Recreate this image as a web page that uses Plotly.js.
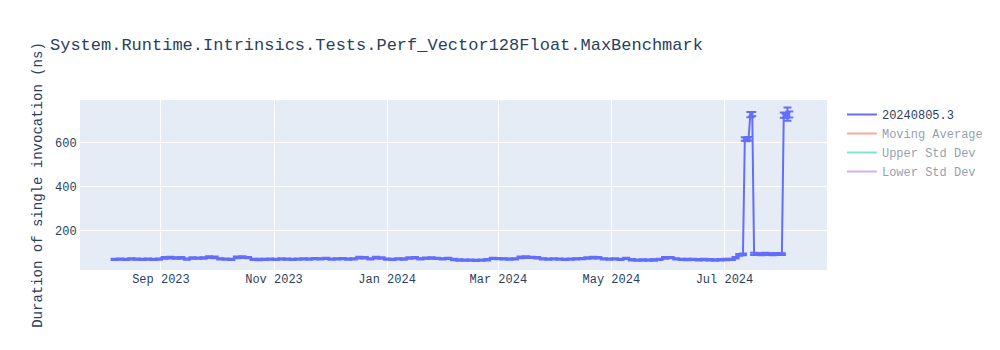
<!DOCTYPE html>
<html>
<head>
<meta charset="utf-8">
<script src="https://cdn.plot.ly/plotly-3.0.1.min.js"></script>
<style>html,body{margin:0;padding:0;background:#fff;}#chart{width:1000px;height:350px;}</style>
</head>
<body>
<div id="chart"></div>
<script>
const chartTitle = "System.Runtime.Intrinsics.Tests.Perf_Vector128Float.MaxBenchmark";
const yTitle = "Duration of single invocation (ns)";
const seriesName = "20240805.3";

const dates = [
  "2023-08-07","2023-08-10","2023-08-13","2023-08-16","2023-08-19","2023-08-22","2023-08-25","2023-08-28","2023-08-31",
  "2023-09-03","2023-09-06","2023-09-09","2023-09-12","2023-09-15","2023-09-18","2023-09-21","2023-09-24","2023-09-27","2023-09-30",
  "2023-10-03","2023-10-06","2023-10-09","2023-10-12","2023-10-15","2023-10-18","2023-10-21","2023-10-24","2023-10-27","2023-10-30",
  "2023-11-02","2023-11-05","2023-11-08","2023-11-11","2023-11-14","2023-11-17","2023-11-20","2023-11-23","2023-11-26","2023-11-29",
  "2023-12-02","2023-12-05","2023-12-08","2023-12-11","2023-12-14","2023-12-17","2023-12-20","2023-12-23","2023-12-26","2023-12-29",
  "2024-01-01","2024-01-04","2024-01-07","2024-01-10","2024-01-13","2024-01-16","2024-01-19","2024-01-22","2024-01-25","2024-01-28","2024-01-31",
  "2024-02-03","2024-02-06","2024-02-09","2024-02-12","2024-02-15","2024-02-18","2024-02-21","2024-02-24","2024-02-27",
  "2024-03-01","2024-03-04","2024-03-07","2024-03-10","2024-03-13","2024-03-16","2024-03-19","2024-03-22","2024-03-25","2024-03-28","2024-03-31",
  "2024-04-03","2024-04-06","2024-04-09","2024-04-12","2024-04-15","2024-04-18","2024-04-21","2024-04-24","2024-04-27","2024-04-30",
  "2024-05-03","2024-05-06","2024-05-09","2024-05-12","2024-05-15","2024-05-18","2024-05-21","2024-05-24","2024-05-27","2024-05-30",
  "2024-06-02","2024-06-05","2024-06-08","2024-06-11","2024-06-14","2024-06-17","2024-06-20","2024-06-23","2024-06-26","2024-06-29",
  "2024-07-02","2024-07-05","2024-07-07","2024-07-09","2024-07-11","2024-07-12","2024-07-13","2024-07-14","2024-07-15","2024-07-16","2024-07-17","2024-07-19","2024-07-21","2024-07-23","2024-07-25","2024-07-27","2024-07-29","2024-07-31",
  "2024-08-01","2024-08-02","2024-08-03","2024-08-04","2024-08-05"
];

const durations = [
  70,71,70,72,71,70,71,70,71,
  77,78,76,77,71,76,75,76,80,79,
  72,71,70,79,80,78,70,69,70,71,
  70,72,71,70,71,72,71,73,72,74,
  71,72,73,71,72,78,77,72,78,76,
  71,70,72,71,76,77,72,75,76,74,72,
  74,69,67,66,66,65,66,68,74,
  73,72,71,72,79,80,79,77,72,71,72,
  71,70,71,72,73,76,78,77,72,71,
  72,70,74,68,66,67,66,67,70,77,
  78,72,70,69,70,68,69,68,67,68,
  69,70,77,90,92,617,612,618,728,730,95,94,93,96,94,93,95,94,
  94,725,722,730,728
];

const errors = [
  3,3,3,3,3,3,3,3,3,
  4,4,3,4,3,3,3,3,4,4,
  3,3,3,4,4,3,3,3,3,3,
  3,3,3,3,3,3,3,3,3,3,
  3,3,3,3,3,4,3,3,4,3,
  3,3,3,3,3,3,3,3,3,3,3,
  3,3,3,3,3,3,3,3,3,
  3,3,3,3,4,4,3,3,3,3,3,
  3,3,3,3,3,3,4,3,3,3,
  3,3,3,3,3,3,3,3,3,4,
  3,3,3,3,3,3,3,3,3,3,
  3,3,3,4,4,8,6,8,12,10,5,4,4,4,4,4,4,4,
  4,12,10,30,14
];

const avgDates = ["2023-08-07","2024-01-01","2024-08-05"];
const movingAvg = [71,72,300];
const upperStd = [75,76,500];
const lowerStd = [67,68,100];

const fontFam = "Courier New, Liberation Mono, monospace";
const mainColor = "#636efa";

const traces = [
  {
    type: "scatter", mode: "lines", name: seriesName,
    x: dates, y: durations,
    line: {color: mainColor, width: 2},
    error_y: {type: "data", array: errors, visible: true, color: mainColor, thickness: 2, width: 4}
  },
  {type: "scatter", mode: "lines", name: "Moving Average", x: avgDates, y: movingAvg, line: {color: "#EF553B"}, visible: "legendonly"},
  {type: "scatter", mode: "lines", name: "Upper Std Dev", x: avgDates, y: upperStd, line: {color: "#00cc96"}, visible: "legendonly"},
  {type: "scatter", mode: "lines", name: "Lower Std Dev", x: avgDates, y: lowerStd, line: {color: "#ab63fa"}, visible: "legendonly"}
];

const layout = {
  width: 1000, height: 350,
  font: {family: fontFam, color: "#2a3f5f", size: 12},
  paper_bgcolor: "#fff",
  plot_bgcolor: "#E5ECF6",
  margin: {l: 80, r: 80, t: 100, b: 80},
  title: {text: chartTitle, x: 0.05, xanchor: "left", font: {family: fontFam, size: 17, color: "#2a3f5f"}},
  xaxis: {
    type: "date",
    range: ["2023-07-19 08:00", "2024-08-25 08:00"],
    gridcolor: "white", linecolor: "white", zerolinecolor: "white",
    ticks: "", showline: false,
    dtick: "M2", tick0: "2023-09-01", tickformat: "%b %Y"
  },
  yaxis: {
    range: [21.4, 794],
    gridcolor: "white", linecolor: "white", zerolinecolor: "white", zerolinewidth: 2,
    ticks: "", dtick: 200,
    title: {text: yTitle, font: {family: fontFam, size: 14, color: "#2a3f5f"}}
  },
  legend: {font: {family: fontFam, size: 12, color: "#2a3f5f"}},
  showlegend: true
};

Plotly.newPlot("chart", traces, layout, {displayModeBar: false});
</script>
</body>
</html>
